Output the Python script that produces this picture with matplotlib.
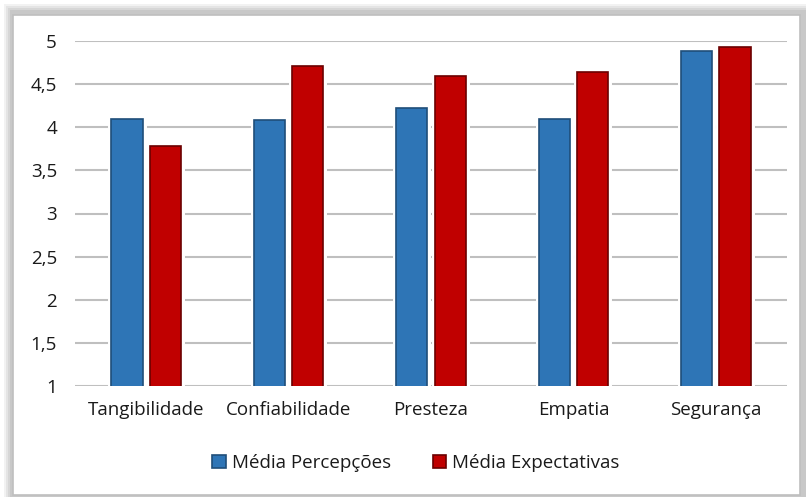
import matplotlib.pyplot as plt
import matplotlib.patheffects as pe
from matplotlib.patches import Rectangle
import numpy as np

plt.rcParams['font.family'] = ['Open Sans', 'DejaVu Sans']

categorias = ['Tangibilidade', 'Confiabilidade', 'Presteza', 'Empatia', 'Segurança']
percepcoes = [4.10, 4.08, 4.22, 4.10, 4.88]
expectativas = [3.78, 4.71, 4.59, 4.64, 4.93]
yticks = [1, 1.5, 2, 2.5, 3, 3.5, 4, 4.5, 5]

W, H = 806, 497
fig = plt.figure(figsize=(W / 100, H / 100), dpi=100)
fig.patch.set_facecolor('white')

# moldura com sombra
for i, c in enumerate(['#f2f2f2', '#e4e4e4', '#d6d6d6', '#c8c8c8']):
    fig.patches.append(Rectangle(((4 + i * 2) / W, 0), (W - 4 - i * 2) / W, (H - 4 - i * 2) / H,
                                 transform=fig.transFigure, facecolor=c, edgecolor='none', zorder=0))
fig.patches.append(Rectangle((13 / W, 2 / H), (W - 19) / W, (H - 17) / H,
                             transform=fig.transFigure, facecolor='white',
                             edgecolor='#bfbfbf', linewidth=1.2, zorder=1))

ax = fig.add_axes([75 / W, 1 - 386 / H, 712 / W, 345 / H])
ax.set_facecolor('none')
ax.set_zorder(2)

x = np.arange(len(categorias))
w = 0.22
sombra = [pe.Stroke(linewidth=5, foreground='white'), pe.Normal()]
b1 = ax.bar(x - 0.135, percepcoes, w, color='#2e75b6', edgecolor='#1f4e79', linewidth=1.2,
            label='Média Percepções', zorder=3)
b2 = ax.bar(x + 0.135, expectativas, w, color='#c00000', edgecolor='#6b0000', linewidth=1.2,
            label='Média Expectativas', zorder=3)
for b in list(b1) + list(b2):
    b.set_path_effects(sombra)

ax.set_xlim(-0.5, len(categorias) - 0.5)
ax.set_ylim(1, 5)
ax.set_yticks(yticks)
ax.set_yticklabels([str(v).replace('.', ',').replace(',0', '') for v in yticks])
ax.set_xticks(x)
ax.set_xticklabels(categorias)
ax.yaxis.grid(True, color='#bfbfbf', linewidth=1.5, zorder=0)
ax.set_axisbelow(True)
for s in ax.spines.values():
    s.set_visible(False)
ax.tick_params(length=0, labelsize=13.5, colors='#1a1a1a')
ax.tick_params(axis='y', pad=13)
ax.tick_params(axis='x', pad=11)

leg = fig.legend(handles=[b1, b2], loc='center', bbox_to_anchor=(416 / W, 1 - 463 / H), ncol=2,
                 frameon=False, fontsize=13.5, handlelength=0.7, handleheight=0.7,
                 handletextpad=0.35, columnspacing=2.2)
for t in leg.get_texts():
    t.set_color('#1a1a1a')

fig.savefig('out.png', dpi=100)
